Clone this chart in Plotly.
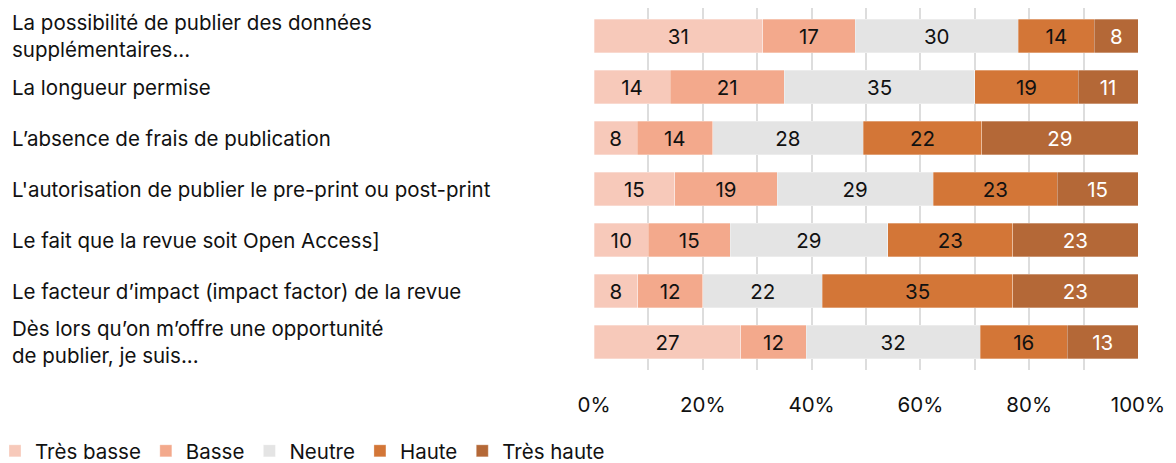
import plotly.graph_objects as go

# survey items, top to bottom
categories = [
    "La possibilité de publier des données<br>supplémentaires...",
    "La longueur permise",
    "L’absence de frais de publication",
    "L'autorisation de publier le pre-print ou post-print",
    "Le fait que la revue soit Open Access]",
    "Le facteur d’impact (impact factor) de la revue",
    "Dès lors qu’on m’offre une opportunité<br>de publier, je suis...",
]

tres_basse = [31, 14, 8, 15, 10, 8, 27]
basse = [17, 21, 14, 19, 15, 12, 12]
neutre = [30, 35, 28, 29, 29, 22, 32]
haute = [14, 19, 22, 23, 23, 35, 16]
tres_haute = [8, 11, 29, 15, 23, 23, 13]

series_names = ["Très basse", "Basse", "Neutre", "Haute", "Très haute"]
series_values = [tres_basse, basse, neutre, haute, tres_haute]
colors = ["#F7C9BA", "#F3A98C", "#E4E4E4", "#D37637", "#B46837"]
text_colors = ["#111111", "#111111", "#111111", "#111111", "#FFFFFF"]

tick_vals = [0, 20, 40, 60, 80, 100]
tick_text = ["0%", "20%", "40%", "60%", "80%", "100%"]

font = "Inter, Liberation Sans, Arial, sans-serif"
fsize = 20.5

# page has an 8px body margin, so the figure is a bit smaller
W, H = 1168, 455
L, R, T, B = 586, 38, 0, 93
plot_w = W - L - R
plot_h = H - T - B

fig = go.Figure()
for name, vals, col, tcol in zip(series_names, series_values, colors, text_colors):
    fig.add_trace(go.Bar(
        y=categories, x=vals, name=name, orientation="h",
        marker=dict(color=col, line=dict(color="rgba(255,255,255,0.6)", width=0.5)),
        text=[str(v) for v in vals], textposition="inside",
        insidetextanchor="middle",
        textfont=dict(color=tcol, size=fsize, family=font),
        constraintext="none",
    ))

# left-aligned category labels
for c in categories:
    fig.add_annotation(
        x=-(L - 2) / plot_w, xref="paper", y=c, yref="y",
        text=c, showarrow=False, xanchor="left", yanchor="middle",
        align="left", font=dict(size=fsize, family=font, color="#111111"),
    )

fig.update_layout(
    barmode="stack", barnorm="percent", bargap=0.34,
    width=W, height=H,
    margin=dict(l=L, r=R, t=T, b=B, autoexpand=False),
    paper_bgcolor="white", plot_bgcolor="white",
    font=dict(family=font, size=fsize, color="#111111"),
    uniformtext=dict(minsize=fsize, mode="show"),
    legend=dict(
        orientation="h", xref="paper", yref="paper",
        x=-(L + 13) / plot_w, y=-61 / plot_h, xanchor="left", yanchor="top",
        font=dict(size=fsize, family=font), traceorder="normal",
        itemwidth=30, tracegroupgap=0, bgcolor="rgba(0,0,0,0)",
    ),
)
fig.update_xaxes(
    range=[0, 100], tickvals=tick_vals, ticktext=tick_text,
    showgrid=True, gridcolor="#DDDDDD", gridwidth=1.5,
    minor=dict(dtick=10, tick0=0, showgrid=True, gridcolor="#DDDDDD", gridwidth=1.5),
    zeroline=False, showline=False, ticks="", ticklabelstandoff=20,
    tickfont=dict(size=fsize, family=font),
)
fig.update_yaxes(
    autorange="reversed", showticklabels=False, showgrid=False,
    zeroline=False, showline=False, ticks="",
)

fig.write_html("out.html")
